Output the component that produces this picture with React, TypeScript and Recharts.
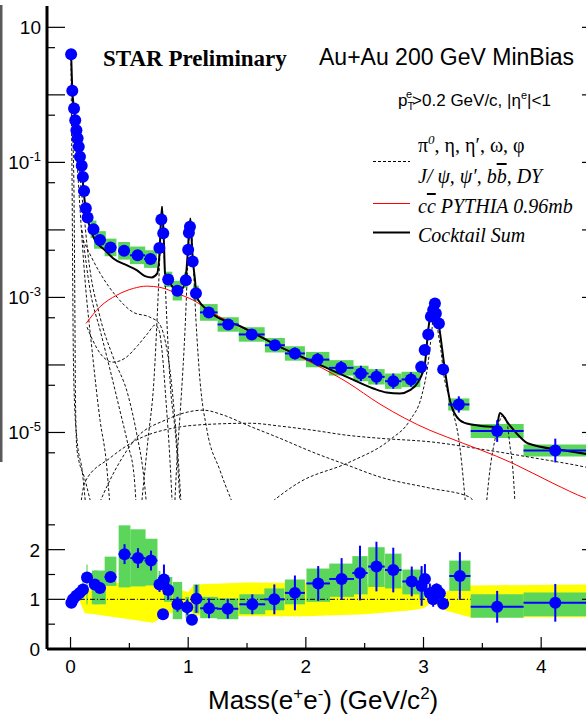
import React from "react";
import {
  ComposedChart,
  Line,
  Scatter,
  Area,
  XAxis,
  YAxis,
  ErrorBar,
  ReferenceArea,
} from "recharts";

const SANS = "'Liberation Sans', Arial, sans-serif";
const SERIF = "'Liberation Serif', 'Times New Roman', serif";
const BLUE = "#0000ff";
const GREEN = "#5bd65b";
const YELLOW = "#ffff00";

// ---------- measured yield (top panel) ----------
const dataMass = [
  0.005, 0.015, 0.03, 0.04, 0.05, 0.06, 0.07, 0.08, 0.095, 0.105, 0.115, 0.13, 0.145,
  0.195, 0.25, 0.34, 0.455, 0.57, 0.68,
  0.755, 0.772, 0.788,
  0.83, 0.908, 0.98,
  1.0, 1.006, 1.015, 1.038, 1.066,
  1.175, 1.34, 1.54, 1.737, 1.907, 2.1, 2.3, 2.468, 2.6, 2.743, 2.893,
  2.98, 3.01, 3.04, 3.063, 3.082, 3.097, 3.105, 3.131, 3.167,
  3.3, 3.626, 4.12,
];
const dataYield = [
  4.0, 1.15, 0.63, 0.42, 0.3, 0.227, 0.17, 0.121, 0.089, 0.061, 0.0376, 0.0209, 0.0153,
  0.0102, 0.0071, 0.0055, 0.0049, 0.0042, 0.0037,
  0.0054, 0.0143, 0.0089,
  0.00185, 0.00126, 0.0018,
  0.0051, 0.0091, 0.0111, 0.0034, 0.00115,
  0.0006, 0.000398, 0.000283, 0.000196, 0.000148, 0.00012, 0.0000906, 0.0000748, 0.0000667, 0.0000575, 0.000061,
  0.000093, 0.000166, 0.000283, 0.00052, 0.00065, 0.00081, 0.00058, 0.00041, 0.000086,
  0.000026, 0.0000105, 0.0000054,
];
const dataHalfBin = [
  0.005, 0.005, 0.005, 0.005, 0.005, 0.005, 0.005, 0.005, 0.005, 0.005, 0.005, 0.005, 0.005,
  0.025, 0.05, 0.05, 0.05, 0.065, 0.055,
  0.008, 0.008, 0.008,
  0.035, 0.04, 0.015,
  0.004, 0.004, 0.005, 0.01, 0.025,
  0.075, 0.09, 0.11, 0.085, 0.085, 0.1, 0.105, 0.065, 0.07, 0.07, 0.08,
  0.02, 0.01, 0.01, 0.01, 0.008, 0.006, 0.006, 0.01, 0.02,
  0.09, 0.225, 0.27,
];
const dataStat = [
  0.03, 0.03, 0.03, 0.03, 0.03, 0.03, 0.03, 0.03, 0.03, 0.03, 0.03, 0.03, 0.03,
  0.05, 0.05, 0.05, 0.05, 0.05, 0.05,
  0.08, 0.08, 0.08,
  0.1, 0.1, 0.1,
  0.08, 0.08, 0.08, 0.08, 0.1,
  0.15, 0.18, 0.2, 0.2, 0.22, 0.25, 0.26, 0.3, 0.3, 0.3, 0.28,
  0.2, 0.1, 0.1, 0.1, 0.08, 0.08, 0.08, 0.1, 0.2,
  0.32, 0.45, 0.5,
];
const dataSys = [
  0.15, 0.15, 0.15, 0.15, 0.15, 0.15, 0.15, 0.15, 0.15, 0.15, 0.15, 0.15, 0.15,
  0.35, 0.35, 0.35, 0.35, 0.35, 0.35,
  0.2, 0.2, 0.2,
  0.3, 0.4, 0.3,
  0.2, 0.2, 0.2, 0.2, 0.3,
  0.33, 0.28, 0.28, 0.28, 0.28, 0.3, 0.3, 0.3, 0.3, 0.3, 0.3,
  0.25, 0.15, 0.15, 0.15, 0.15, 0.15, 0.15, 0.15, 0.15,
  0.23, 0.27, 0.23,
];

// ---------- cocktail components (top panel) ----------
const pi0DalitzMass = [0.004, 0.008, 0.013, 0.017, 0.021, 0.03, 0.055, 0.098, 0.14];
const pi0DalitzVal = [3.5, 0.42, 0.055, 5e-3, 4.6e-4, 4.3e-5, 7.8e-6, 2.8e-6, 5e-7];
const etaDalitzMass = [0.013, 0.021, 0.03, 0.034, 0.038, 0.042, 0.055, 0.123, 0.208];
const etaDalitzVal = [1.18, 0.215, 0.0277, 3.58e-3, 3.29e-4, 3.0e-5, 5.5e-6, 2.0e-6, 5e-7];
const omegaDalitzMass = [0.064, 0.081, 0.115, 0.149, 0.251, 0.361, 0.489, 0.565, 0.616, 0.658];
const omegaDalitzVal = [0.215, 0.065, 0.0166, 4.27e-3, 5.1e-4, 1.32e-4, 3.57e-5, 9.1e-6, 2.75e-6, 5e-7];
const etaTailMass = [0.055, 0.081, 0.123, 0.183, 0.251, 0.302, 0.344];
const etaTailVal = [0.109, 0.02, 1.82e-3, 1.66e-4, 1.51e-5, 3.9e-6, 5e-7];
const phiDalitzMass = [0.098, 0.166, 0.251, 0.336, 0.42, 0.489, 0.54, 0.565];
const phiDalitzVal = [9.9e-3, 1.29e-3, 3.3e-4, 8.5e-5, 2.1e-5, 6.5e-6, 2.3e-6, 5e-7];
const etaPrimeMass = [0.106, 0.251, 0.395, 0.531, 0.675, 0.751, 0.793, 0.845, 0.888, 0.922, 0.947];
const etaPrimeVal = [7.1e-3, 2.29e-3, 1.01e-3, 6.05e-4, 5.1e-4, 4.16e-4, 2.76e-4, 8.4e-5, 1.52e-5, 2.75e-6, 5e-7];
const rhoMass = [0.14, 0.251, 0.361, 0.463, 0.573, 0.658, 0.718, 0.752, 0.777, 0.811, 0.845, 0.871];
const rhoVal = [3.63e-4, 1.49e-4, 1.1e-4, 1.26e-4, 1.96e-4, 2.96e-4, 3.89e-4, 3.28e-4, 1.66e-4, 3.0e-5, 3.9e-6, 5e-7];
const omegaMass = [0.59, 0.658, 0.709, 0.743, 0.765, 0.777, 0.79, 0.811, 0.845, 0.896, 0.939];
const omegaVal = [5e-7, 7.8e-6, 6.0e-5, 9.1e-4, 7.1e-3, 0.0225, 7.1e-3, 9.1e-4, 6.0e-5, 7.8e-6, 5e-7];
const phiMass = [0.879, 0.905, 0.939, 0.973, 0.998, 1.019, 1.041, 1.066, 1.1, 1.159, 1.27, 1.44];
const phiVal = [5e-7, 3.9e-6, 3.0e-5, 3.28e-4, 3.57e-3, 0.013, 3.57e-3, 4.6e-4, 6.0e-5, 1.1e-5, 2.75e-6, 5e-7];
const jpsiMass = [1.527, 1.95, 2.375, 2.715, 2.885, 2.986, 3.037, 3.071, 3.097, 3.122, 3.148, 3.167, 3.224, 3.309, 3.369];
const jpsiVal = [5e-7, 1.85e-6, 3.66e-6, 7.8e-6, 1.52e-5, 3.57e-5, 1.0e-4, 3.28e-4, 9.1e-4, 3.28e-4, 1.66e-4, 8.4e-5, 3.0e-5, 6.1e-6, 5e-7];
const psi2sMass = [3.522, 3.564, 3.607, 3.649, 3.675, 3.709, 3.734, 3.76, 3.785];
const psi2sVal = [5e-7, 2.75e-6, 7.8e-6, 1.52e-5, 1.8e-5, 1.42e-5, 6.5e-6, 2.75e-6, 5e-7];
const bbbarMass = [0.07, 0.123, 0.336, 0.565, 0.871, 1.211, 1.525, 1.785, 2.06, 2.35, 2.63, 3.08, 3.479, 3.904, 4.38, 4.5];
const bbbarVal = [5e-7, 1.85e-6, 4.19e-6, 7.8e-6, 1.16e-5, 1.33e-5, 1.37e-5, 1.24e-5, 1.08e-5, 9.1e-6, 8.2e-6, 7.2e-6, 5.7e-6, 4.3e-6, 3.06e-6, 2.75e-6];
const dyMass = [0.183, 0.378, 0.565, 0.803, 1.126, 1.295, 1.499, 1.78, 2.06, 2.35, 2.63, 3.054, 3.394, 3.479];
const dyVal = [5e-7, 2.75e-6, 8.5e-6, 1.52e-5, 2.14e-5, 1.82e-5, 1.29e-5, 8.2e-6, 5.1e-6, 3.3e-6, 2.19e-6, 1.5e-6, 1.1e-6, 5e-7];

const charmMass = [0.132, 0.25, 0.393, 0.534, 0.647, 0.76, 0.902, 1.043, 1.211, 1.5, 1.78, 2.06, 2.35, 2.63, 3.053, 3.196, 3.76, 4.1, 4.38, 4.5];
const charmVal = [4.12e-4, 7.26e-4, 1.08e-3, 1.36e-3, 1.47e-3, 1.41e-3, 1.15e-3, 9.1e-4, 5.85e-4, 3.27e-4, 1.83e-4, 1.06e-4, 5.56e-5, 2.63e-5, 1.08e-5, 8.6e-6, 3.49e-6, 1.77e-6, 1.06e-6, 9e-7];

const sumMass = [
  0.005, 0.015, 0.03, 0.05, 0.07, 0.09, 0.105, 0.12, 0.15, 0.208, 0.293, 0.364, 0.477, 0.562, 0.633, 0.69, 0.737,
  0.754, 0.777, 0.794, 0.803, 0.85, 0.9, 0.95, 0.985, 1.005, 1.019, 1.035, 1.058, 1.072, 1.185, 1.455, 1.78,
  2.063, 2.347, 2.573, 2.686, 2.8, 2.885, 2.955, 3.012, 3.04, 3.091, 3.133, 3.182, 3.224, 3.309, 3.394, 3.62,
  3.649, 3.72, 3.82, 3.89, 4.2, 4.5,
];
const sumVal = [
  4.2, 1.2, 0.62, 0.3, 0.16, 0.09, 0.05, 0.027, 0.0135, 0.00706, 5.0e-3, 3.78e-3, 3.0e-3, 2.54e-3, 2.07e-3, 1.98e-3, 2.27e-3,
  4.0e-3, 0.022, 6.4e-3, 2.29e-3, 1.6e-3, 1.25e-3, 1.35e-3, 2.5e-3, 8e-3, 0.0148, 4.5e-3, 1.8e-3, 1.02e-3, 6.1e-4, 3.67e-4, 1.85e-4,
  1.11e-4, 6.67e-5, 4.49e-5, 3.92e-5, 3.79e-5, 4.24e-5, 5.62e-5, 1.05e-4, 3.28e-4, 9.1e-4, 3.66e-4, 8.4e-5, 3.01e-5, 1.52e-5, 1.32e-5, 1.21e-5,
  1.95e-5, 1.36e-5, 8.6e-6, 6.87e-6, 5.4e-6, 4.5e-6,
];

// ---------- ratio data / cocktail (bottom panel) ----------
const ratioMass = [
  0.007, 0.021, 0.049, 0.078, 0.106, 0.14, 0.206, 0.25, 0.34, 0.459, 0.573, 0.684, 0.756, 0.786, 0.794, 0.83,
  0.909, 0.992, 1.032, 1.07, 1.177, 1.336, 1.545, 1.732, 1.907, 2.105, 2.304, 2.46, 2.6, 2.743, 2.9,
  2.984, 3.012, 3.054, 3.082, 3.111, 3.139, 3.167, 3.309, 3.626, 4.12,
];
const ratioVal = [
  0.93, 1.0, 1.07, 1.13, 1.2, 1.44, 1.3, 1.23, 1.45, 1.91, 1.83, 1.78, 1.3, 0.7, 1.4, 1.19,
  0.9, 0.84, 0.59, 1.01, 0.82, 0.81, 0.9, 1.0, 1.13, 1.32, 1.41, 1.53, 1.66, 1.59, 1.36,
  1.27, 1.41, 1.12, 1.0, 1.2, 1.12, 0.91, 1.47, 0.85, 0.93,
];
const ratioHalfBin = [
  0.005, 0.005, 0.005, 0.005, 0.005, 0.005, 0.025, 0.05, 0.05, 0.05, 0.065, 0.055, 0.008, 0.008, 0.008, 0.035,
  0.04, 0.015, 0.005, 0.025, 0.075, 0.09, 0.11, 0.085, 0.085, 0.1, 0.105, 0.065, 0.07, 0.07, 0.08,
  0.02, 0.01, 0.01, 0.008, 0.006, 0.01, 0.02, 0.09, 0.225, 0.27,
];
const ratioStat = [
  0.03, 0.03, 0.03, 0.03, 0.04, 0.05, 0.05, 0.06, 0.07, 0.2, 0.2, 0.2, 0.15, 0.1, 0.3, 0.2,
  0.15, 0.15, 0.1, 0.28, 0.2, 0.2, 0.2, 0.3, 0.35, 0.35, 0.42, 0.55, 0.5, 0.45, 0.3,
  0.4, 0.3, 0.2, 0.15, 0.12, 0.1, 0.1, 0.48, 0.32, 0.38,
];
const ratioSysLo = [
  0.88, 0.92, 0.95, 1.0, 1.0, 0.9, 0.9, 0.9, 1.27, 1.24, 1.26, 1.28, 1.22, 0.62, 1.2, 0.95,
  0.6, 0.62, 0.52, 0.72, 0.62, 0.6, 0.7, 0.78, 0.9, 0.95, 1.05, 1.1, 1.25, 1.22, 1.1,
  1.0, 1.2, 1.0, 0.9, 1.08, 1.0, 0.82, 1.17, 0.63, 0.66,
];
const ratioSysHi = [
  0.98, 1.08, 1.18, 1.26, 1.4, 1.7, 1.58, 1.58, 1.86, 2.49, 2.41, 2.22, 1.57, 0.78, 1.6, 1.45,
  1.35, 1.05, 0.68, 1.3, 1.05, 1.02, 1.1, 1.22, 1.4, 1.62, 1.72, 1.87, 2.05, 1.92, 1.6,
  1.5, 1.6, 1.22, 1.1, 1.3, 1.22, 1.0, 1.78, 1.1, 1.14,
];

// cocktail uncertainty band
const bandMass = [0.08, 0.12, 0.2, 0.35, 0.5, 0.7, 0.75, 0.85, 0.95, 1.0, 1.05, 1.5, 2.0, 2.5, 2.9, 3.0, 3.08, 3.15, 3.3, 3.4, 4.5];
const bandLo = [0.95, 0.72, 0.7, 0.65, 0.6, 0.53, 0.6, 0.72, 0.8, 0.85, 0.68, 0.66, 0.66, 0.7, 0.78, 0.82, 0.95, 0.8, 0.7, 0.64, 0.64];
const bandHi = [1.05, 1.15, 1.25, 1.33, 1.33, 1.33, 1.3, 1.25, 1.18, 1.15, 1.3, 1.34, 1.33, 1.3, 1.27, 1.22, 1.05, 1.15, 1.2, 1.28, 1.3];
const unityMass = [0.08, 3.4];

// ---------- axes ----------
const xDomain = [-0.2, 4.5];
const xTicks = [0, 0.5, 1, 1.5, 2, 2.5, 3, 3.5, 4];
const xLabelTicks = [0, 1, 2, 3, 4];
const logDomain = [1e-6, 20.7];
const logTicks = [10, 5, 1, 0.5, 0.1, 0.05, 0.01, 0.005, 1e-3, 5e-4, 1e-4, 5e-5, 1e-5, 5e-6];
const logLabelTicks = [10, 0.1, 1e-3, 1e-5];
const ratioDomain = [0, 3];
const ratioTicks = [0, 0.5, 1, 1.5, 2, 2.5];
const ratioLabelTicks = [0, 1, 2];

const curve = (ms: number[], vs: number[]) => ms.map((m, i) => ({ m, v: vs[i] }));

const topPoints = dataMass.map((m, i) => {
  const v = dataYield[i];
  const s = dataStat[i];
  return { m, v, ex: dataHalfBin[i], ey: [v - v / (1 + s), v * s] };
});

const ratioPoints = ratioMass.map((m, i) => ({
  m,
  r: ratioVal[i],
  ex: ratioHalfBin[i],
  ey: ratioStat[i],
}));

const bandData = bandMass.map((m, i) => ({ m, band: [bandLo[i], bandHi[i]] }));

const dashedComponents = [
  curve(pi0DalitzMass, pi0DalitzVal),
  curve(etaDalitzMass, etaDalitzVal),
  curve(omegaDalitzMass, omegaDalitzVal),
  curve(etaTailMass, etaTailVal),
  curve(phiDalitzMass, phiDalitzVal),
  curve(etaPrimeMass, etaPrimeVal),
  curve(rhoMass, rhoVal),
  curve(omegaMass, omegaVal),
  curve(phiMass, phiVal),
  curve(jpsiMass, jpsiVal),
  curve(psi2sMass, psi2sVal),
  curve(bbbarMass, bbbarVal),
  curve(dyMass, dyVal),
];

const isInt = (v: number) => Math.abs(v - Math.round(v)) < 1e-9;

// tick drawn inward from the frame, optional label outside
function XTick(props: any) {
  const { x, y, payload, dir, long, short, labels } = props;
  const v = payload.value;
  const len = isInt(v) ? long : short;
  return (
    <g>
      <line x1={x} x2={x} y1={y} y2={y + dir * len} stroke="#000" strokeWidth={1.2} />
      {labels && labels.includes(v) && (
        <text x={x} y={y + 24} textAnchor="middle" fontSize={19} fontFamily={SANS} fill="#000">
          {v}
        </text>
      )}
    </g>
  );
}

function LinTick(props: any) {
  const { x, y, payload, dir, labels } = props;
  const v = payload.value;
  const len = isInt(v) ? 18 : 8;
  return (
    <g>
      <line x1={x} x2={x + dir * len} y1={y} y2={y} stroke="#000" strokeWidth={1.2} />
      {labels && labels.includes(v) && (
        <text x={x - 7} y={y + 7} textAnchor="end" fontSize={19} fontFamily={SANS} fill="#000">
          {v}
        </text>
      )}
    </g>
  );
}

function LogTick(props: any) {
  const { x, y, payload, dir, labels } = props;
  const v = payload.value;
  const e = Math.log10(v);
  const len = isInt(e) ? 18 : 8;
  const exp = Math.round(e);
  return (
    <g>
      <line x1={x} x2={x + dir * len} y1={y} y2={y} stroke="#000" strokeWidth={1.2} />
      {labels && labels.includes(v) && (
        <text x={x - 6} y={y + 7} textAnchor="end" fontSize={19} fontFamily={SANS} fill="#000">
          10
          {exp !== 1 && (
            <tspan dy={-8} fontSize={13}>
              {"-" + Math.abs(exp)}
            </tspan>
          )}
        </text>
      )}
    </g>
  );
}

const frame = { stroke: "#000", strokeWidth: 3 };

function TopPanel() {
  return (
    <ComposedChart width={610} height={500} margin={{ top: 6, right: 0, bottom: 0, left: 0 }}>
      <XAxis
        xAxisId="b"
        type="number"
        dataKey="m"
        domain={xDomain}
        ticks={xTicks}
        interval={0}
        height={0}
        tickSize={0}
        tickMargin={0}
        tickLine={false}
        axisLine={frame}
        allowDataOverflow
        tick={<XTick dir={-1} long={13} short={7} />}
      />
      <XAxis
        xAxisId="t"
        orientation="top"
        type="number"
        domain={xDomain}
        ticks={xTicks}
        interval={0}
        height={0}
        tickSize={0}
        tickMargin={0}
        tickLine={false}
        axisLine={frame}
        allowDataOverflow
        tick={<XTick dir={1} long={13} short={7} />}
      />
      <YAxis
        yAxisId="l"
        dataKey="v"
        scale="log"
        domain={logDomain}
        ticks={logTicks}
        interval={0}
        width={47}
        tickSize={0}
        tickMargin={0}
        tickLine={false}
        axisLine={frame}
        allowDataOverflow
        tick={<LogTick dir={1} labels={logLabelTicks} />}
      />
      <YAxis
        yAxisId="r"
        orientation="right"
        scale="log"
        domain={logDomain}
        ticks={logTicks}
        interval={0}
        width={10}
        tickSize={0}
        tickMargin={0}
        tickLine={false}
        axisLine={frame}
        allowDataOverflow
        tick={<LogTick dir={-1} />}
      />

      {topPoints.map((p, i) => (
        <ReferenceArea
          key={"sys" + i}
          xAxisId="b"
          yAxisId="l"
          x1={p.m - dataHalfBin[i]}
          x2={p.m + dataHalfBin[i]}
          y1={p.v / (1 + dataSys[i])}
          y2={p.v * (1 + dataSys[i])}
          fill={GREEN}
          fillOpacity={1}
          stroke="none"
          ifOverflow="hidden"
        />
      ))}

      {dashedComponents.map((d, i) => (
        <Line
          key={"comp" + i}
          xAxisId="b"
          yAxisId="l"
          data={d}
          dataKey="v"
          type="monotone"
          stroke="#111"
          strokeWidth={1}
          strokeDasharray="3 2"
          dot={false}
          isAnimationActive={false}
        />
      ))}
      <Line
        xAxisId="b"
        yAxisId="l"
        data={curve(charmMass, charmVal)}
        dataKey="v"
        type="monotone"
        stroke="#ff0000"
        strokeWidth={1}
        dot={false}
        isAnimationActive={false}
      />
      <Line
        xAxisId="b"
        yAxisId="l"
        data={curve(sumMass, sumVal)}
        dataKey="v"
        type="monotone"
        stroke="#000"
        strokeWidth={2}
        dot={false}
        isAnimationActive={false}
      />
      <Scatter
        xAxisId="b"
        yAxisId="l"
        data={topPoints}
        dataKey="v"
        isAnimationActive={false}
        shape={(p: any) => <circle cx={p.cx} cy={p.cy} r={6} fill={BLUE} />}
      >
        <ErrorBar dataKey="ex" direction="x" width={0} stroke={BLUE} strokeWidth={2} isAnimationActive={false} />
        <ErrorBar dataKey="ey" direction="y" width={0} stroke={BLUE} strokeWidth={2} isAnimationActive={false} />
      </Scatter>
    </ComposedChart>
  );
}

function RatioPanel() {
  return (
    <ComposedChart width={610} height={214} data={bandData} margin={{ top: 0, right: 0, bottom: 0, left: 0 }}>
      <XAxis
        xAxisId="b"
        type="number"
        dataKey="m"
        domain={xDomain}
        ticks={xTicks}
        interval={0}
        height={65}
        tickSize={0}
        tickMargin={0}
        tickLine={false}
        axisLine={frame}
        allowDataOverflow
        tick={<XTick dir={-1} long={12} short={6} labels={xLabelTicks} />}
      />
      <XAxis
        xAxisId="t"
        orientation="top"
        type="number"
        domain={xDomain}
        ticks={xTicks}
        interval={0}
        height={0}
        tickSize={0}
        tickMargin={0}
        tickLine={false}
        axisLine={frame}
        allowDataOverflow
        tick={<XTick dir={1} long={10} short={6} />}
      />
      <YAxis
        yAxisId="l"
        dataKey="r"
        domain={ratioDomain}
        ticks={ratioTicks}
        interval={0}
        width={47}
        tickSize={0}
        tickMargin={0}
        tickLine={false}
        axisLine={frame}
        allowDataOverflow
        tick={<LinTick dir={1} labels={ratioLabelTicks} />}
      />
      <YAxis
        yAxisId="r"
        orientation="right"
        domain={ratioDomain}
        ticks={ratioTicks}
        interval={0}
        width={10}
        tickSize={0}
        tickMargin={0}
        tickLine={false}
        axisLine={frame}
        allowDataOverflow
        tick={<LinTick dir={-1} />}
      />

      <Area
        xAxisId="b"
        yAxisId="l"
        dataKey="band"
        type="linear"
        stroke="none"
        fill={YELLOW}
        fillOpacity={1}
        isAnimationActive={false}
      />
      {ratioPoints.map((p, i) => (
        <ReferenceArea
          key={"rsys" + i}
          xAxisId="b"
          yAxisId="l"
          x1={p.m - p.ex}
          x2={p.m + p.ex}
          y1={ratioSysLo[i]}
          y2={ratioSysHi[i]}
          fill={GREEN}
          fillOpacity={1}
          stroke="none"
          ifOverflow="hidden"
        />
      ))}
      <Line
        xAxisId="b"
        yAxisId="l"
        data={unityMass.map((m) => ({ m, r: 1 }))}
        dataKey="r"
        stroke="#000"
        strokeWidth={1}
        strokeDasharray="5 2 1 2"
        dot={false}
        isAnimationActive={false}
      />
      <Scatter
        xAxisId="b"
        yAxisId="l"
        data={ratioPoints}
        dataKey="r"
        isAnimationActive={false}
        shape={(p: any) => <circle cx={p.cx} cy={p.cy} r={6} fill={BLUE} />}
      >
        <ErrorBar dataKey="ex" direction="x" width={0} stroke={BLUE} strokeWidth={2} isAnimationActive={false} />
        <ErrorBar dataKey="ey" direction="y" width={0} stroke={BLUE} strokeWidth={2} isAnimationActive={false} />
      </Scatter>
    </ComposedChart>
  );
}

export default function App() {
  return (
    <div
      style={{
        position: "absolute",
        left: 0,
        top: 0,
        width: 586,
        height: 714,
        overflow: "hidden",
        background: "#fff",
      }}
    >
      <div style={{ position: "absolute", left: 0, top: 0 }}>
        <TopPanel />
      </div>
      <div style={{ position: "absolute", left: 0, top: 500 }}>
        <RatioPanel />
      </div>
      <svg
        width={586}
        height={714}
        style={{ position: "absolute", left: 0, top: 0, pointerEvents: "none" }}
      >
        <rect x={0} y={5} width={2.5} height={457} fill="#5a5a5a" />
        <text x={103} y={66} fontSize={23} fontWeight="bold" fontFamily={SERIF}>
          STAR Preliminary
        </text>
        <text x={319} y={65} fontSize={23} fontFamily={SANS}>
          Au+Au 200 GeV MinBias
        </text>
        <text x={398} y={106} fontSize={17} fontFamily={SANS}>
          p
          <tspan fontSize={11} dy={4}>T</tspan>
          <tspan fontSize={11} dx={-7} dy={-12}>e</tspan>
          <tspan dy={8}>{">0.2 GeV/c, |η"}</tspan>
          <tspan fontSize={11} dy={-7}>e</tspan>
          <tspan dy={7}>{"|<1"}</tspan>
        </text>

        <line x1={373} x2={410} y1={161.5} y2={161.5} stroke="#000" strokeWidth={1} strokeDasharray="3 2" />
        <text x={418} y={152} fontSize={20} fontFamily={SERIF}>
          π
          <tspan dy={-8} fontSize={13} fontStyle="italic">0</tspan>
          <tspan dy={8}>, η, η′, ω, φ</tspan>
        </text>
        <text x={418} y={183} fontSize={20} fontFamily={SERIF} fontStyle="italic">
          J/ ψ, ψ′, b<tspan style={{ textDecoration: "overline" }}>b</tspan>, DY
        </text>
        <line x1={373} x2={410} y1={203.5} y2={203.5} stroke="#ff0000" strokeWidth={1} />
        <text x={418} y={213} fontSize={20} fontFamily={SERIF} fontStyle="italic">
          c<tspan style={{ textDecoration: "overline" }}>c</tspan> PYTHIA 0.96mb
        </text>
        <line x1={373} x2={410} y1={232.5} y2={232.5} stroke="#000" strokeWidth={2} />
        <text x={418} y={242} fontSize={20} fontFamily={SERIF} fontStyle="italic">
          Cocktail Sum
        </text>

        <text x={208} y={709} fontSize={26} fontFamily={SANS}>
          Mass(e
          <tspan dy={-10} fontSize={17}>+</tspan>
          <tspan dy={10}>e</tspan>
          <tspan dy={-10} fontSize={17}>-</tspan>
          <tspan dy={10}>) (GeV/c</tspan>
          <tspan dy={-10} fontSize={17}>2</tspan>
          <tspan dy={10}>)</tspan>
        </text>
      </svg>
    </div>
  );
}
